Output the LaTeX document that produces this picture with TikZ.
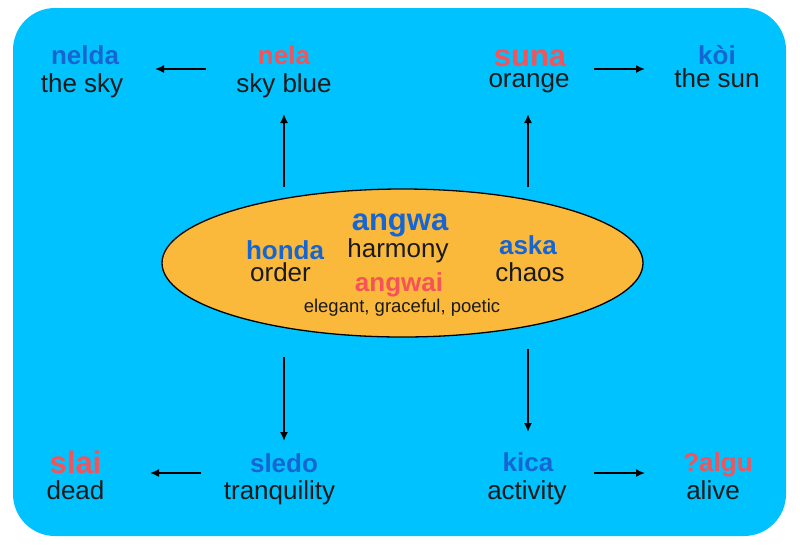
\documentclass[tikz,border=0pt]{standalone}
\usepackage{fontspec}
\setmainfont{Liberation Sans}
\usetikzlibrary{arrows.meta,shapes.geometric}
\definecolor{bgblue}{HTML}{00C2FF}
\definecolor{ovalfill}{HTML}{FBB93C}
\definecolor{wordblue}{HTML}{1565D2}
\definecolor{wordred}{HTML}{F5525A}
\definecolor{txt}{HTML}{1A1A1A}
\tikzset{
  x=1pt, y=-1pt,
  word/.style={anchor=base, inner sep=0pt, font=\fontsize{26}{26}\selectfont\bfseries, text=wordblue},
  redword/.style={word, text=wordred},
  bigword/.style={font=\fontsize{31}{31}\selectfont\bfseries},
  gloss/.style={anchor=base, inner sep=0pt, font=\fontsize{26}{26}\selectfont, text=txt},
  smallgloss/.style={gloss, font=\fontsize{18.5}{18.5}\selectfont},
  arr/.style={line width=1.6pt, -{Latex[length=9pt,width=8pt]}},
}
\begin{document}
\begin{tikzpicture}
\useasboundingbox (0,0) rectangle (800,547);
\fill[bgblue, rounded corners=42pt] (13,8) rectangle (786,536);
\node[draw=black, line width=1.3pt, fill=ovalfill, ellipse, minimum width=481pt, minimum height=148pt, inner sep=0pt] (oval) at (402.5,263) {};
% centre
\node[word, bigword] (angwa) at (400,230) {angwa};
\node[gloss] (harmony) at (398,257) {harmony};
\node[word] (honda) at (285,259) {honda};
\node[gloss] (order) at (280.5,281) {order};
\node[word] (aska) at (528,254) {aska};
\node[gloss] (chaos) at (530,281) {chaos};
\node[redword] (angwai) at (399,291) {angwai};
\node[smallgloss] (poetic) at (402,312) {elegant, graceful, poetic};
% top
\node[word] (nelda) at (85,64) {nelda};
\node[gloss] (thesky) at (82,92) {the sky};
\node[redword] (nela) at (284,64) {nela};
\node[gloss] (skyblue) at (284,92) {sky blue};
\node[redword, bigword] (suna) at (530,66) {suna};
\node[gloss] (orange) at (529,87) {orange};
\node[word] (koi) at (717,64) {kòi};
\node[gloss] (thesun) at (717,87) {the sun};
% bottom
\node[redword, bigword] (slai) at (75.5,473) {slai};
\node[gloss] (dead) at (75.5,499) {dead};
\node[word] (sledo) at (284,472) {sledo};
\node[gloss] (tranq) at (279.5,499) {tranquility};
\node[word] (kica) at (528,471) {kica};
\node[gloss] (activity) at (527,499) {activity};
\node[redword] (algu) at (718,471) {?algu};
\node[gloss] (alive) at (713,499) {alive};
% arrow end points
\coordinate (a1s) at (284,187); \coordinate (a1e) at (284,114);
\coordinate (a2s) at (528,187); \coordinate (a2e) at (528,114);
\coordinate (a3s) at (284,357); \coordinate (a3e) at (284,441);
\coordinate (a4s) at (528,349); \coordinate (a4e) at (528,432);
\coordinate (a5s) at (206,69); \coordinate (a5e) at (155,69);
\coordinate (a6s) at (594,69); \coordinate (a6e) at (645,69);
\coordinate (a7s) at (201,473); \coordinate (a7e) at (150,473);
\coordinate (a8s) at (594,473); \coordinate (a8e) at (645,473);
\foreach \i in {1,...,8} \draw[arr] (a\i s) -- (a\i e);
\end{tikzpicture}
\end{document}
